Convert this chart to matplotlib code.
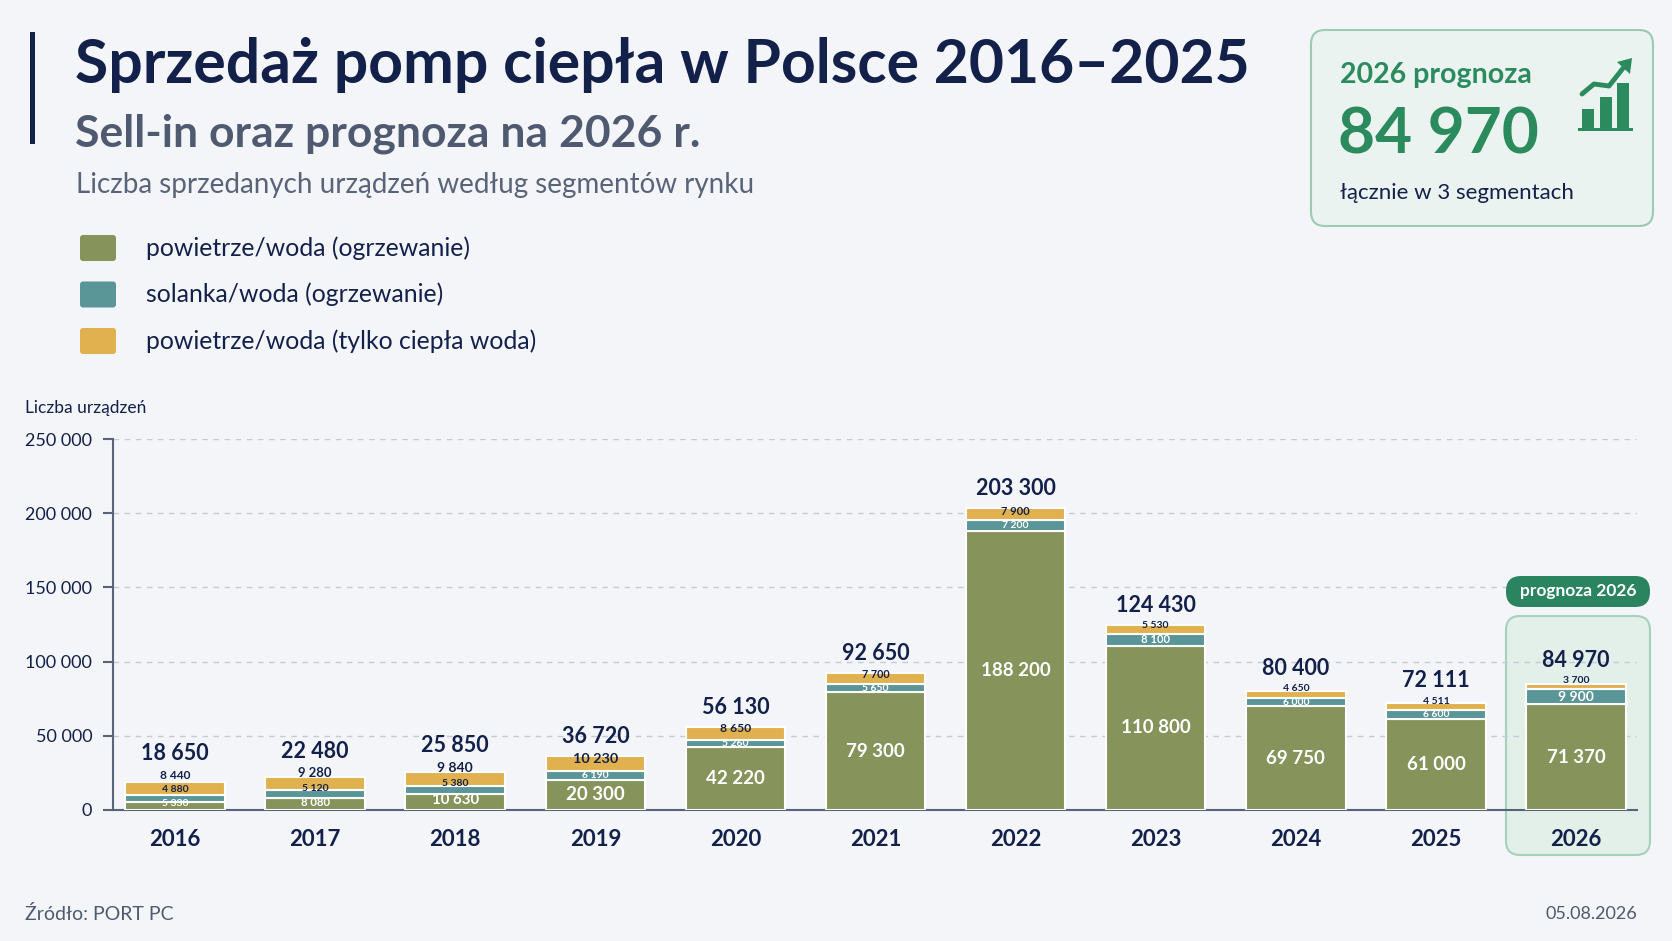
import matplotlib
matplotlib.use('Agg')
import matplotlib.pyplot as plt
import matplotlib.transforms as mtransforms
from matplotlib.patches import FancyBboxPatch, Rectangle, Polygon
import numpy as np

W, H = 1672, 941

years = ['2016', '2017', '2018', '2019', '2020', '2021', '2022', '2023', '2024', '2025', '2026']
air_heating = [5330, 8080, 10630, 20300, 42220, 79300, 188200, 110800, 69750, 61000, 71370]
brine_heating = [4880, 5120, 5380, 6190, 5260, 5650, 7200, 8100, 6000, 6600, 9900]
air_hot_water = [8440, 9280, 9840, 10230, 8650, 7700, 7900, 5530, 4650, 4511, 3700]
series_names = ['powietrze/woda (ogrzewanie)', 'solanka/woda (ogrzewanie)',
                'powietrze/woda (tylko ciepła woda)']
y_ticks = [0, 50000, 100000, 150000, 200000, 250000]

BG = '#f3f5f9'
NAVY = '#13214a'
GRAY = '#4f5a70'
C_GREEN = '#86935b'
C_TEAL = '#5a9597'
C_GOLD = '#e0b14e'
BOX_GREEN = '#2b8a5e'

plt.rcParams['font.family'] = ['Lato', 'DejaVu Sans']

def fmt(v):
    return f'{v:,}'.replace(',', ' ')

fig = plt.figure(figsize=(W / 100, H / 100), dpi=100, facecolor=BG)
# transform in pixels, origin top-left
px = mtransforms.Affine2D().scale(1 / W, -1 / H).translate(0, 1) + fig.transFigure

# header
fig.add_artist(Rectangle((30, 32), 5, 112, transform=px, color=NAVY, lw=0))
fig.text(75, 83, 'Sprzedaż pomp ciepła w Polsce 2016–2025', transform=px,
         fontsize=43.7, weight='bold', color=NAVY, va='baseline')
fig.text(75, 146, 'Sell-in oraz prognoza na 2026 r.', transform=px,
         fontsize=32, weight='bold', color=GRAY, va='baseline')
fig.text(76, 185, 'Liczba sprzedanych urządzeń według segmentów rynku', transform=px,
         fontsize=20, color='#5a6478', va='center')

# legend
for i, (name, c) in enumerate(zip(series_names, [C_GREEN, C_TEAL, C_GOLD])):
    yc = 248 + i * 46.5
    fig.add_artist(FancyBboxPatch((80, yc - 13), 36, 26, boxstyle='round,pad=0,rounding_size=3',
                                  transform=px, fc=c, ec='none'))
    fig.text(146, yc, name, transform=px, fontsize=17.8, color=NAVY, va='center')

# forecast box
fig.add_artist(FancyBboxPatch((1311, 30), 342, 196, boxstyle='round,pad=0,rounding_size=14',
                              transform=px, fc='#eaf3ef', ec='#9ccbb2', lw=1.5))
fig.text(1340, 75, '2026 prognoza', transform=px, fontsize=20.5, weight='bold',
         color=BOX_GREEN, va='center')
fig.text(1338, 135, fmt(sum([air_heating[-1], brine_heating[-1], air_hot_water[-1]])),
         transform=px, fontsize=46, weight='bold', color=BOX_GREEN, va='center')
fig.text(1340, 193, 'łącznie w 3 segmentach', transform=px, fontsize=16,
         color=NAVY, va='center')

# small trend icon
for x0, top in [(1582, 109), (1600, 97), (1617, 83)]:
    fig.add_artist(Rectangle((x0, top), 12, 129 - top, transform=px, color=BOX_GREEN, lw=0))
fig.add_artist(Rectangle((1578, 128), 55, 3, transform=px, color=BOX_GREEN, lw=0))
fig.add_artist(plt.Line2D([1582, 1594, 1609, 1624], [94, 84, 86, 67], transform=px,
                          color=BOX_GREEN, lw=3.5, solid_capstyle='round'))
fig.add_artist(Polygon([[1617, 62], [1632, 58], [1630, 74]], closed=True, transform=px,
                       color=BOX_GREEN, lw=0))

# forecast highlight behind last bar
fig.add_artist(FancyBboxPatch((1506, 616), 144, 239, boxstyle='round,pad=0,rounding_size=14',
                              transform=px, fc='#e3efe9', ec='#a6d2bb', lw=1.5, zorder=-1))
fig.add_artist(FancyBboxPatch((1506, 576), 144, 31, boxstyle='round,pad=0,rounding_size=15',
                              transform=px, fc='#2a8460', ec='none', zorder=3))
fig.text(1578, 591, 'prognoza 2026', transform=px, fontsize=12.5, weight='bold',
         color='white', ha='center', va='center', zorder=4)

# chart
ax = fig.add_axes([113 / W, 1 - 810 / H, (1637 - 113) / W, (810 - 439) / H])
ax.patch.set_visible(False)
x = np.arange(len(years))
bw = 0.71
bottom2 = np.array(air_heating)
bottom3 = bottom2 + np.array(brine_heating)
totals = bottom3 + np.array(air_hot_water)

ax.bar(x, air_heating, bw, color=C_GREEN, edgecolor='white', lw=1.5, zorder=3)
ax.bar(x, brine_heating, bw, bottom=bottom2, color=C_TEAL, edgecolor='white', lw=1.5, zorder=3)
ax.bar(x, air_hot_water, bw, bottom=bottom3, color=C_GOLD, edgecolor='white', lw=1.5, zorder=3)

ax.set_xlim(-0.4425, 10.435)
ax.set_ylim(0, 250000)
unit_px = 371 / 250000   # pixels per unit

# segment labels, pushed apart when segments are too thin for the text
for i in range(len(years)):
    segs = [(0, air_heating[i], 'white'), (bottom2[i], brine_heating[i], 'white'),
            (bottom3[i], air_hot_water[i], NAVY)]
    prev_top = 0
    for b, h, tc in segs:
        fs = float(np.clip(h * unit_px / 1.39 * 0.95, 7.5, 13.5))
        hbox = fs * 1.39 * 1.3
        c = (b + h / 2) * unit_px
        y = max(c, prev_top + hbox / 2)
        prev_top = y + hbox / 2
        col = tc if b * unit_px <= y <= (b + h) * unit_px else NAVY
        ax.text(x[i], y / unit_px, fmt(h), ha='center', va='center', fontsize=fs,
                color=col, weight='bold', zorder=4)
    top_px = max(totals[i] * unit_px + 9, prev_top + 3)
    ax.text(x[i], top_px / unit_px, fmt(int(totals[i])), ha='center', va='bottom',
            fontsize=15.5, weight='bold', color=NAVY, zorder=4)

ax.set_yticks(y_ticks)
ax.set_yticklabels([fmt(v) for v in y_ticks], fontsize=13, color=NAVY)
ax.set_xticks(x)
ax.set_xticklabels(years, fontsize=16, weight='bold', color=NAVY)
ax.tick_params(axis='x', length=0, pad=14)
ax.tick_params(axis='y', length=7, width=1.5, color='#5a6478', pad=8)
for yv in y_ticks[1:]:
    ax.axhline(yv, color='#c5cad3', lw=1, ls=(0, (4, 4)), zorder=1)
for s in ['top', 'right']:
    ax.spines[s].set_visible(False)
ax.spines['left'].set_color('#5a6478')
ax.spines['left'].set_linewidth(1.5)
ax.spines['bottom'].set_color('#5a6478')
ax.spines['bottom'].set_linewidth(1.5)

fig.text(25, 408, 'Liczba urządzeń', transform=px, fontsize=12.5, color=NAVY, va='center')

# footer
fig.text(25, 914, 'Źródło: PORT PC', transform=px, fontsize=14, color=GRAY, va='center')
fig.text(1637, 914, '05.08.2026', transform=px, fontsize=13, color=GRAY, va='center', ha='right')

fig.savefig('out.png', dpi=100, facecolor=BG)
